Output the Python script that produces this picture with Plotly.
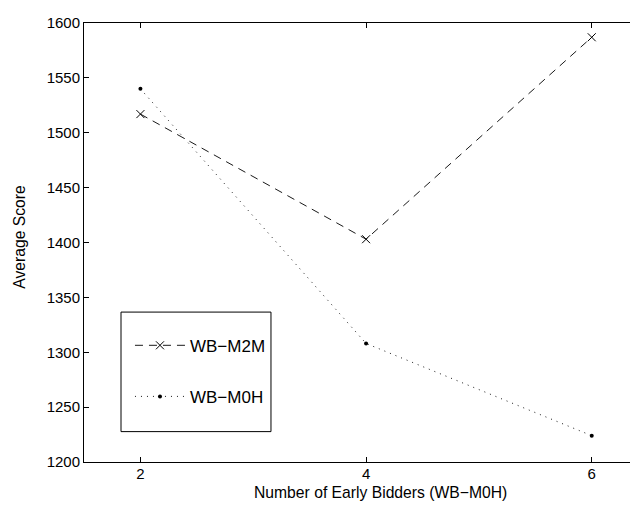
import plotly.graph_objects as go

bidders = [2, 4, 6]
m2m = [1517, 1403, 1587]
m0h = [1540, 1308, 1224]
series_names = ["WB\u2212M2M", "WB\u2212M0H"]
y_ticks = [1200, 1250, 1300, 1350, 1400, 1450, 1500, 1550, 1600]
x_ticks = [2, 4, 6]
x_title = "Number of Early Bidders (WB\u2212M0H)"
y_title = "Average Score"

FONT = "Liberation Sans, Arial, sans-serif"

fig = go.Figure()
fig.add_trace(go.Scatter(
    x=bidders, y=m2m, name=series_names[0], mode="lines+markers",
    line=dict(color="black", width=0.9, dash="8px,6px"),
    marker=dict(symbol="x-thin-open", size=8, color="black",
                line=dict(color="black", width=1)),
    legendgroup="a",
))
fig.add_trace(go.Scatter(
    x=bidders, y=m0h, name=series_names[1], mode="lines+markers",
    line=dict(color="black", width=0.9, dash="1px,5px"),
    marker=dict(symbol="circle", size=4, color="black"),
    legendgroup="b",
))

fig.add_shape(type="rect", xref="paper", yref="paper",
              x0=0.0668, x1=0.3375, y0=0.0692, y1=0.3415,
              line=dict(color="black", width=1), fillcolor="rgba(0,0,0,0)",
              layer="below")

fig.add_annotation(text=x_title, xref="paper", yref="paper", x=0.536, y=0,
                   yshift=-30, xanchor="center", yanchor="middle",
                   showarrow=False, font=dict(family=FONT, size=15.7, color="black"))
fig.add_annotation(text=y_title, xref="paper", yref="paper", x=0, y=0.513,
                   xshift=-64, xanchor="center", yanchor="middle", textangle=-90,
                   showarrow=False, font=dict(family=FONT, size=15.7, color="black"))

fig.update_layout(
    width=638, height=506,
    margin=dict(l=76, r=8, t=6, b=52),
    paper_bgcolor="white", plot_bgcolor="white",
    font=dict(family=FONT, size=15, color="black"),
    showlegend=True,
    legend=dict(
        x=0.083, y=0.3058, xanchor="left", yanchor="top",
        borderwidth=0, bgcolor="rgba(0,0,0,0)",
        traceorder="grouped", tracegroupgap=26,
        font=dict(family=FONT, size=17, color="black"),
        itemwidth=50,
    ),
    xaxis=dict(
        range=[1.5, 6.41], tickvals=x_ticks, ticktext=[str(v) for v in x_ticks],
        showgrid=False, zeroline=False,
        showline=True, linecolor="black", linewidth=1, mirror="ticks",
        ticks="inside", ticklen=5, tickcolor="black", tickwidth=1,
        tickfont=dict(size=15), ticklabeloverflow="allow",
        ticklabelstandoff=-2,
    ),
    yaxis=dict(
        range=[1200, 1600], tickvals=y_ticks, ticktext=[str(v) for v in y_ticks],
        showgrid=False, zeroline=False,
        showline=True, linecolor="black", linewidth=1, mirror=False,
        ticks="inside", ticklen=5, tickcolor="black", tickwidth=1,
        tickfont=dict(size=15), ticklabeloverflow="allow",
    ),
)

fig.write_html("out.html")
